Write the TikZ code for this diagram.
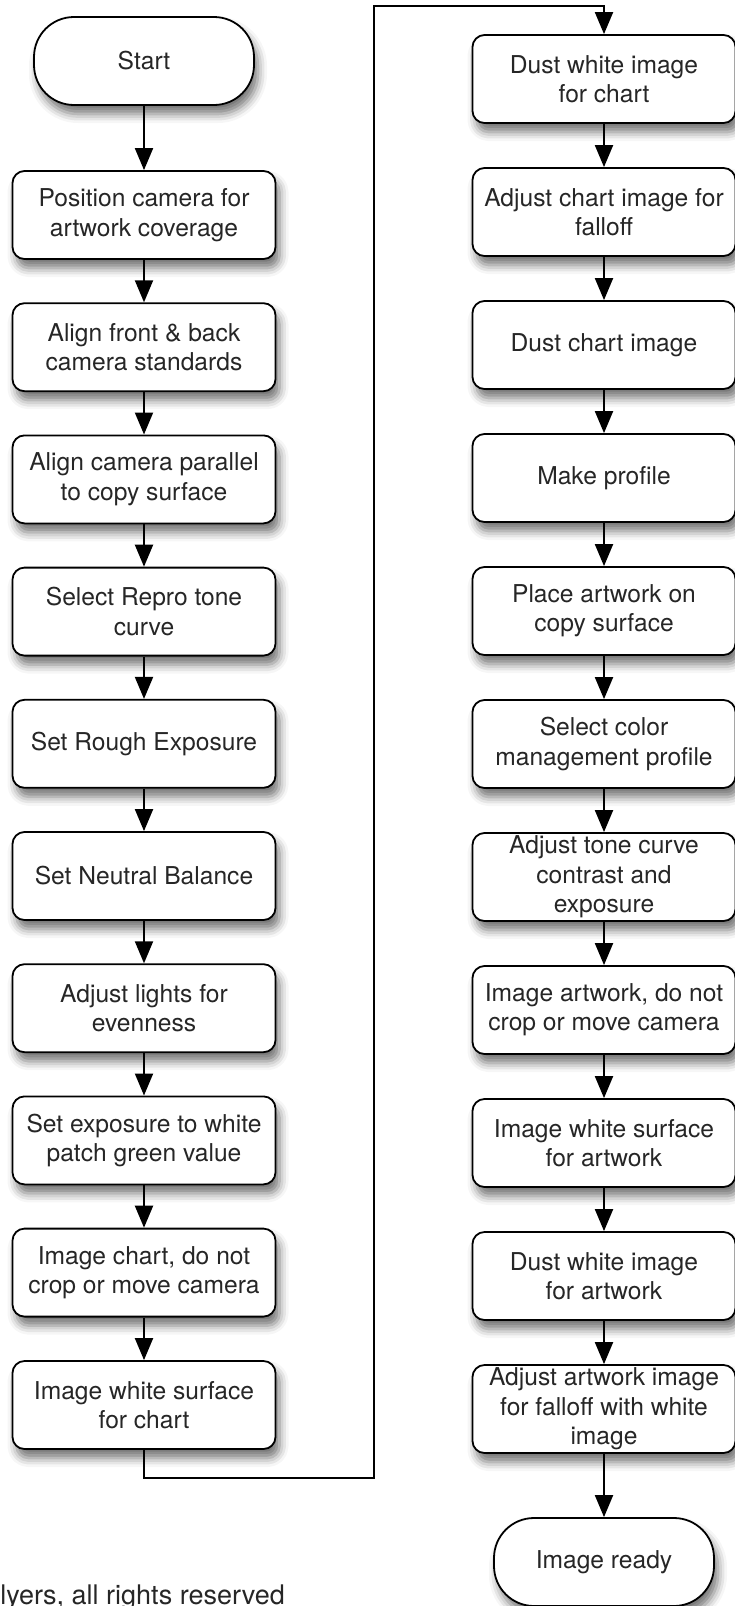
\documentclass[tikz,border=0pt]{standalone}
\usepackage{fontspec}
\setmainfont{TeX Gyre Heros}
\usetikzlibrary{arrows.meta,shadows.blur}
\begin{document}
\begin{tikzpicture}[
  x=0.5pt, y=-0.5pt,
  box/.style={draw, rounded corners=6pt, line width=0.9pt, fill=white,
    text=black!85, font=\fontsize{12.3}{14.7}\selectfont, align=center,
    minimum width=131.5pt, minimum height=44pt, inner sep=0pt,
    blur shadow={shadow xshift=2pt, shadow yshift=-4.5pt,
      shadow blur radius=4.5pt, shadow opacity=55}},
  term/.style={box, rounded corners=20pt, minimum width=110pt},
  flow/.style={-{Triangle[length=11pt,width=9pt]}, line width=1pt},
]
  \useasboundingbox (0,0) rectangle (734,1606);

  % left column
  \node[term] (start)    at (144,   61)   {Start};
  \node[box]  (pos)      at (144,  215)   {Position camera for\\artwork coverage};
  \node[box]  (stds)     at (144,  347.2) {Align front \& back\\camera standards};
  \node[box]  (parallel) at (144,  479.4) {Align camera parallel\\to copy surface};
  \node[box]  (repro)    at (144,  611.6) {Select Repro tone\\curve};
  \node[box]  (rough)    at (144,  743.8) {Set Rough Exposure};
  \node[box]  (neutral)  at (144,  876)   {Set Neutral Balance};
  \node[box]  (lights)   at (144, 1008.2) {Adjust lights for\\evenness};
  \node[box]  (green)    at (144, 1140.4) {Set exposure to white\\patch green value};
  \node[box]  (chart)    at (144, 1272.6) {Image chart, do not\\crop or move camera};
  \node[box]  (whitec)   at (144, 1405)   {Image white surface\\for chart};

  % right column
  \node[box]  (dustwc)   at (604,   79) {Dust white image\\for chart};
  \node[box]  (falloffc) at (604,  212) {Adjust chart image for\\falloff};
  \node[box]  (dustc)    at (604,  345) {Dust chart image};
  \node[box]  (profile)  at (604,  478) {Make profile};
  \node[box]  (place)    at (604,  611) {Place artwork on\\copy surface};
  \node[box]  (colmgmt)  at (604,  744) {Select color\\management profile};
  \node[box]  (curve)    at (604,  877) {Adjust tone curve\\contrast and\\exposure};
  \node[box]  (artwork)  at (604, 1010) {Image artwork, do not\\crop or move camera};
  \node[box]  (whitea)   at (604, 1143) {Image white surface\\for artwork};
  \node[box]  (dusta)    at (604, 1276) {Dust white image\\for artwork};
  \node[box]  (falloffa) at (604, 1409) {Adjust artwork image\\for falloff with white\\image};
  \node[term] (ready)    at (604, 1562) {Image ready};

  \node[anchor=base west, inner sep=0pt, text=black!85,
    font=\fontsize{13.5}{16}\selectfont] (note) at (0,1604) {lyers, all rights reserved};

  \draw[flow] (start)    -- (pos);
  \draw[flow] (pos)      -- (stds);
  \draw[flow] (stds)     -- (parallel);
  \draw[flow] (parallel) -- (repro);
  \draw[flow] (repro)    -- (rough);
  \draw[flow] (rough)    -- (neutral);
  \draw[flow] (neutral)  -- (lights);
  \draw[flow] (lights)   -- (green);
  \draw[flow] (green)    -- (chart);
  \draw[flow] (chart)    -- (whitec);

  % jump to the second column
  \coordinate (turnb) at (374,1478);
  \coordinate (turnt) at (374,6);
  \draw[flow] (whitec.south) |- (turnb) -- (turnt) -| (dustwc.north);

  \draw[flow] (dustwc)   -- (falloffc);
  \draw[flow] (falloffc) -- (dustc);
  \draw[flow] (dustc)    -- (profile);
  \draw[flow] (profile)  -- (place);
  \draw[flow] (place)    -- (colmgmt);
  \draw[flow] (colmgmt)  -- (curve);
  \draw[flow] (curve)    -- (artwork);
  \draw[flow] (artwork)  -- (whitea);
  \draw[flow] (whitea)   -- (dusta);
  \draw[flow] (dusta)    -- (falloffa);
  \draw[flow] (falloffa) -- (ready);
\end{tikzpicture}
\end{document}
